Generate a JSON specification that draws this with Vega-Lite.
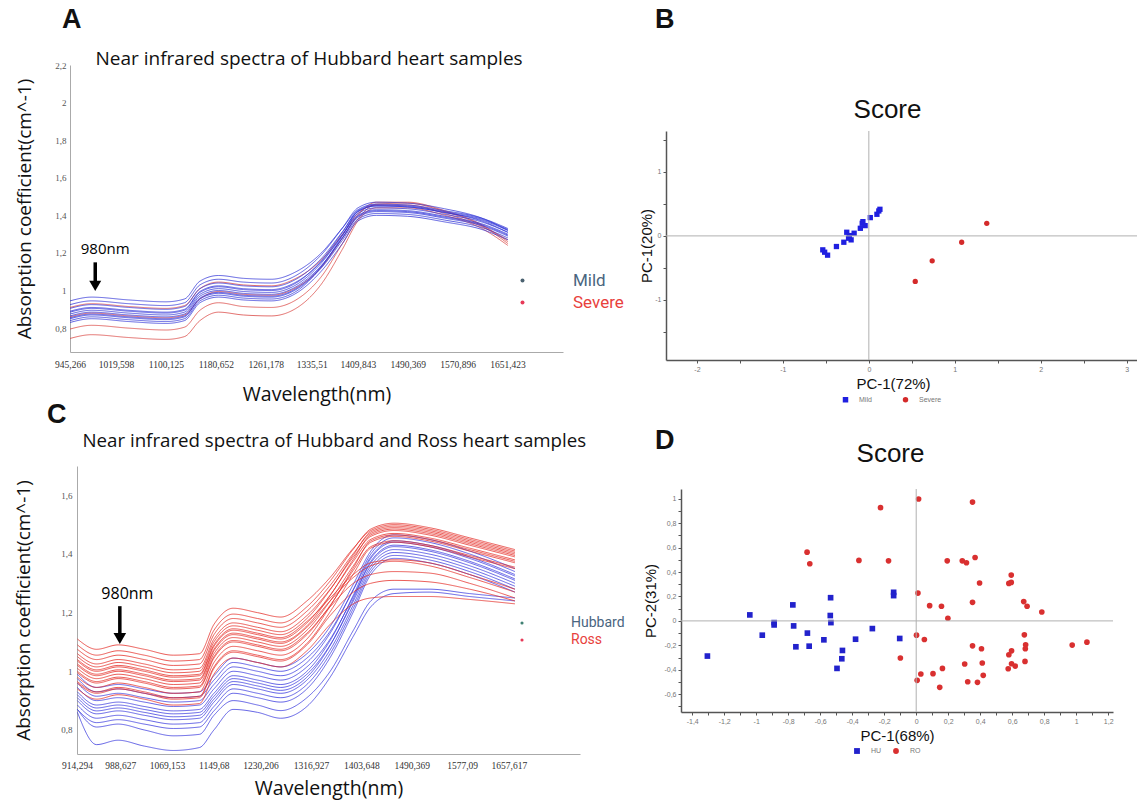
{
"$schema":"https://vega.github.io/schema/vega-lite/v6.json",
"background":"white",
"padding":{"left":14,"top":6,"right":0,"bottom":6},
"config":{
 "view":{"stroke":null},
 "locale":{"number":{"decimal":",","thousands":".","grouping":[3],"currency":["",""],"minus":"-"}},
 "title":{"font":"Liberation Sans","fontWeight":"bold","fontSize":27,"color":"#111","anchor":"start","frame":"group"},
 "axis":{"grid":false,"labelFlush":false,"labelOverlap":false,"titleFontWeight":"normal","titleColor":"#111","labelFont":"Liberation Sans"}
},
"align":"none",
"spacing":14,
"resolve":{"scale":{"color":"independent","shape":"independent","strokeDash":"independent"},"legend":{"color":"independent","shape":"independent","strokeDash":"independent"}},
"hconcat":[
 {"spacing":-5,"align":"none",
  "resolve":{"scale":{"color":"independent","shape":"independent","strokeDash":"independent"},"legend":{"color":"independent","shape":"independent","strokeDash":"independent"}},
  "vconcat":[
  {"width":1,"height":1,"data":{"values":[]},"mark":{"type":"point","opacity":0}},
  {"width":493,"height":287,
   "title":{"text":"A","dx":-8,"offset":15},
   "layer":[
    {"data":{"name":"specA"},
     "mark":{"type":"line","strokeWidth":0.9,"interpolate":"monotone","opacity":0.85},
     "encoding":{
      "x":{"field":"w","type":"quantitative","scale":{"domain":[945.266,1741],"nice":false,"zero":false},
       "axis":{"values":[945.266,1019.598,1100.125,1180.652,1261.178,1335.51,1409.843,1490.369,1570.896,1651.423],"format":".3~f","labelFont":"Liberation Serif","labelFontSize":9.5,"labelColor":"#333","labelPadding":7,"ticks":false,"domainColor":"#aaaaaa","title":"Wavelength(nm)","titleFont":"Open Sans","titleFontSize":19.5,"titlePadding":17}},
      "y":{"field":"v","type":"quantitative","scale":{"domain":[0.673,2.2],"nice":false,"zero":false},
       "axis":{"values":[0.8,1,1.2,1.4,1.6,1.8,2,2.2],"format":".1~f","labelFont":"Liberation Serif","labelFontSize":9,"labelColor":"#555","labelPadding":4,"ticks":false,"domainColor":"#aaaaaa","title":"Absorption coefficient(cm^-1)","titleFont":"Open Sans","titleFontSize":19,"titlePadding":20}},
      "color":{"field":"g","type":"nominal","scale":{"domain":["Mild","Severe"],"range":["#2b2fd6","#d9413d"]},
       "legend":{"orient":"none","legendX":444,"legendY":207,"values":["Mild"],"title":null,"symbolType":"circle","symbolSize":16,"symbolFillColor":"#2b4657","symbolStrokeWidth":0,"labelColor":"#4a6580","labelOffset":42,"labelFont":"Roboto","labelFontSize":17}},
      "strokeDash":{"field":"g","type":"nominal","scale":{"domain":["Severe","Mild"],"range":[[1,0],[1,0]]},
       "legend":{"orient":"none","legendX":444,"legendY":229,"values":["Severe"],"title":null,"symbolType":"circle","symbolSize":16,"symbolFillColor":"#e3163b","symbolStrokeWidth":0,"labelColor":"#e8413c","labelOffset":42,"labelFont":"Roboto","labelFontSize":17}},
      "detail":{"field":"s"}}},
    {"data":{"name":"arrA"},"mark":{"type":"rule","strokeWidth":3.5,"color":"#000"},
     "encoding":{"x":{"field":"x","type":"quantitative","axis":{"orient":"top","title":"Near infrared spectra of Hubbard heart samples","labels":false,"ticks":false,"domain":false,"titleFont":"Open Sans","titleFontSize":19,"titleX":25,"titleAlign":"left","titlePadding":-3}},
      "y":{"field":"top","type":"quantitative"},"y2":{"field":"bot"}}},
    {"data":{"name":"arrA"},"mark":{"type":"point","shape":"triangle-down","filled":true,"size":144,"color":"#000","opacity":1},
     "encoding":{"x":{"field":"x","type":"quantitative","axis":null},"y":{"field":"head","type":"quantitative"}}},
    {"data":{"name":"arrA"},"mark":{"type":"text","font":"Open Sans","fontSize":15,"color":"#000"},
     "encoding":{"x":{"field":"tx","type":"quantitative","axis":null},"y":{"field":"ty","type":"quantitative"},"text":{"field":"label"}}}
   ],
   "resolve":{"axis":{"x":"independent"}}},
  {"width":1,"height":7,"data":{"values":[]},"mark":{"type":"point","opacity":0}},
  {"spacing":-57,"align":"none",
   "resolve":{"scale":{"color":"independent","shape":"independent","strokeDash":"independent"},"legend":{"color":"independent","shape":"independent","strokeDash":"independent"}},
   "hconcat":[
   {"width":1,"height":1,"data":{"values":[]},"mark":{"type":"point","opacity":0}},
   {"width":503,"height":288,
    "title":{"text":"C","dx":-30,"offset":2},
    "layer":[
     {"data":{"name":"specC"},
      "mark":{"type":"line","strokeWidth":0.9,"interpolate":"monotone","opacity":0.85},
      "encoding":{
       "x":{"field":"w","type":"quantitative","scale":{"domain":[914.294,1780],"nice":false,"zero":false},
        "axis":{"values":[914.294,988.627,1069.153,1149.68,1230.206,1316.927,1403.648,1490.369,1577.09,1657.617],"format":".3~f","labelFont":"Liberation Serif","labelFontSize":9.5,"labelColor":"#333","labelPadding":6,"ticks":false,"domainColor":"#aaaaaa","title":"Wavelength(nm)","titleFont":"Open Sans","titleFontSize":19.5,"titlePadding":10}},
       "y":{"field":"v","type":"quantitative","scale":{"domain":[0.718,1.7],"nice":false,"zero":false},
        "axis":{"values":[0.8,0.9,1,1.1,1.2,1.3,1.4,1.5,1.6,1.7],"format":".1~f","labelFont":"Liberation Serif","labelFontSize":9,"labelColor":"#555","labelPadding":5,"ticks":false,"domainColor":"#aaaaaa","title":"Absorption coefficient(cm^-1)","titleFont":"Open Sans","titleFontSize":19,"titlePadding":27}},
       "color":{"field":"g","type":"nominal","scale":{"domain":["Hubbard","Ross"],"range":["#3333dd","#e3261f"]},
        "legend":{"orient":"none","legendX":438,"legendY":150,"values":["Hubbard"],"title":null,"symbolType":"circle","symbolSize":10,"symbolFillColor":"#1f6b5a","symbolStrokeWidth":0,"labelColor":"#4a6580","labelOffset":42,"labelFont":"Roboto","labelFontSize":14}},
       "strokeDash":{"field":"g","type":"nominal","scale":{"domain":["Ross","Hubbard"],"range":[[1,0],[1,0]]},
        "legend":{"orient":"none","legendX":438,"legendY":167,"values":["Ross"],"title":null,"symbolType":"circle","symbolSize":10,"symbolFillColor":"#e3163b","symbolStrokeWidth":0,"labelColor":"#e8413c","labelOffset":42,"labelFont":"Roboto","labelFontSize":14}},
       "detail":{"field":"s"}}},
     {"data":{"name":"arrC"},"mark":{"type":"rule","strokeWidth":3.5,"color":"#000"},
      "encoding":{"x":{"field":"x","type":"quantitative","axis":{"orient":"top","title":"Near infrared spectra of Hubbard and Ross heart samples","labels":false,"ticks":false,"domain":false,"titleFont":"Open Sans","titleFontSize":18.7,"titleX":5,"titleAlign":"left","titlePadding":16}},
       "y":{"field":"top","type":"quantitative"},"y2":{"field":"bot"}}},
     {"data":{"name":"arrC"},"mark":{"type":"point","shape":"triangle-down","filled":true,"size":160,"color":"#000","opacity":1},
      "encoding":{"x":{"field":"x","type":"quantitative","axis":null},"y":{"field":"head","type":"quantitative"}}},
     {"data":{"name":"arrC"},"mark":{"type":"text","font":"Open Sans","fontSize":16,"color":"#000"},
      "encoding":{"x":{"field":"tx","type":"quantitative","axis":null},"y":{"field":"ty","type":"quantitative"},"text":{"field":"label"}}}
    ],
    "resolve":{"axis":{"x":"independent"}}}
  ]}
 ]},
 {"spacing":-5,"align":"none",
  "resolve":{"scale":{"color":"independent","shape":"independent","strokeDash":"independent"},"legend":{"color":"independent","shape":"independent","strokeDash":"independent"}},
  "vconcat":[
  {"width":1,"height":1,"data":{"values":[]},"mark":{"type":"point","opacity":0}},
  {"width":471,"height":229,
   "title":{"text":"B","dx":-11,"offset":62},
   "layer":[
    {"data":{"name":"scoreB"},"mark":{"type":"point","filled":true,"size":28,"opacity":1},
     "encoding":{
      "x":{"field":"pc1","type":"quantitative","scale":{"domain":[-2.36,3.12],"nice":false,"zero":false},
       "axis":{"values":[-2,-1.5,-1,-0.5,0,0.5,1,1.5,2,2.5,3],"labelExpr":"datum.value % 1 === 0 ? datum.label : ''","format":".1~f","labelFontSize":7,"labelColor":"#777","labelPadding":2,"tickSize":3,"tickColor":"#555","domainColor":"#555","domainWidth":1.5,"title":"PC-1(72%)","titleFont":"Liberation Sans","titleFontSize":15,"titlePadding":4,"titleX":227,"titleAlign":"center"}},
      "y":{"field":"pc2","type":"quantitative","scale":{"domain":[-1.94,1.64],"nice":false,"zero":false},
       "axis":{"values":[-1.5,-1,-0.5,0,0.5,1,1.5],"labelExpr":"datum.value % 1 === 0 ? datum.label : ''","format":".1~f","labelFontSize":7,"labelColor":"#777","labelPadding":2,"tickSize":3,"tickColor":"#555","domainColor":"#555","domainWidth":1.5,"title":"PC-1(20%)","titleFont":"Liberation Sans","titleFontSize":15,"titlePadding":0}},
      "shape":{"field":"g","type":"nominal","scale":{"domain":["Mild","Severe"],"range":["square","circle"]},
       "legend":{"orient":"none","direction":"horizontal","legendX":176,"legendY":265,"title":null,"labelFontSize":7,"labelColor":"#777","symbolSize":30,"columnPadding":30,"labelOffset":10}},
      "color":{"field":"g","type":"nominal","scale":{"domain":["Mild","Severe"],"range":["#1f1fe0","#d42a2a"]},
       "legend":{"orient":"none","direction":"horizontal","legendX":176,"legendY":265,"title":null,"labelFontSize":7,"labelColor":"#777","symbolSize":30,"columnPadding":30,"labelOffset":10}}}},
    {"data":{"values":[{"z":0}]},"mark":{"type":"rule","color":"#b0b0b0","strokeWidth":1},
     "encoding":{"x":{"field":"z","type":"quantitative","axis":{"orient":"top","title":"Score","labels":false,"ticks":false,"domain":false,"titleFont":"Liberation Sans","titleFontSize":26,"titlePadding":9,"titleX":221,"titleAlign":"center"}}}},
    {"data":{"values":[{"z":0}]},"mark":{"type":"rule","color":"#b0b0b0","strokeWidth":1},
     "encoding":{"y":{"field":"z","type":"quantitative","axis":null}}}
   ],
   "resolve":{"axis":{"x":"independent","y":"independent"}}},
  {"width":1,"height":34,"data":{"values":[]},"mark":{"type":"point","opacity":0}},
  {"spacing":-24,"align":"none",
   "resolve":{"scale":{"color":"independent","shape":"independent","strokeDash":"independent"},"legend":{"color":"independent","shape":"independent","strokeDash":"independent"}},
   "hconcat":[
   {"width":1,"height":1,"data":{"values":[]},"mark":{"type":"point","opacity":0}},
   {"width":432,"height":223,
    "title":{"text":"D","dx":-26,"offset":-15},
    "layer":[
     {"data":{"name":"scoreD"},"mark":{"type":"point","filled":true,"size":32,"opacity":1},
      "encoding":{
       "x":{"field":"pc1","type":"quantitative","scale":{"domain":[-1.47,1.23],"nice":false,"zero":false},
        "axis":{"values":[-1.4,-1.3,-1.2,-1.1,-1,-0.9,-0.8,-0.7,-0.6,-0.5,-0.4,-0.3,-0.2,-0.1,0,0.1,0.2,0.3,0.4,0.5,0.6,0.7,0.8,0.9,1,1.1,1.2],"labelExpr":"abs(round(datum.value*10)) % 2 === 0 ? datum.label : ''","format":".1~f","labelFontSize":7,"labelColor":"#777","labelPadding":2,"tickSize":3,"tickColor":"#555","domainColor":"#555","domainWidth":1.5,"title":"PC-1(68%)","titleFont":"Liberation Sans","titleFontSize":15,"titlePadding":4}},
       "y":{"field":"pc2","type":"quantitative","scale":{"domain":[-0.746,1.08],"nice":false,"zero":false},
        "axis":{"values":[-0.7,-0.6,-0.5,-0.4,-0.3,-0.2,-0.1,0,0.1,0.2,0.3,0.4,0.5,0.6,0.7,0.8,0.9,1],"labelExpr":"abs(round(datum.value*10)) % 2 === 0 ? datum.label : ''","format":".1~f","labelFontSize":7,"labelColor":"#777","labelPadding":2,"tickSize":3,"tickColor":"#555","domainColor":"#555","domainWidth":1.5,"title":"PC-2(31%)","titleFont":"Liberation Sans","titleFontSize":15,"titlePadding":5}},
       "shape":{"field":"g","type":"nominal","scale":{"domain":["HU","RO"],"range":["square","circle"]},
        "legend":{"orient":"none","direction":"horizontal","legendX":172,"legendY":258,"title":null,"labelFontSize":7,"labelColor":"#777","symbolSize":34,"columnPadding":10,"labelOffset":10}},
       "color":{"field":"g","type":"nominal","scale":{"domain":["HU","RO"],"range":["#2222cc","#d93030"]},
        "legend":{"orient":"none","direction":"horizontal","legendX":172,"legendY":258,"title":null,"labelFontSize":7,"labelColor":"#777","symbolSize":34,"columnPadding":10,"labelOffset":10}}}},
     {"data":{"values":[{"z":0}]},"mark":{"type":"rule","color":"#b0b0b0","strokeWidth":1},
      "encoding":{"x":{"field":"z","type":"quantitative","axis":{"orient":"top","title":"Score","labels":false,"ticks":false,"domain":false,"titleFont":"Liberation Sans","titleFontSize":26,"titlePadding":23,"titleX":209,"titleAlign":"center"}}}},
     {"data":{"values":[{"z":0}]},"mark":{"type":"rule","color":"#b0b0b0","strokeWidth":1},
      "encoding":{"y":{"field":"z","type":"quantitative","axis":null}}}
    ],
    "resolve":{"axis":{"x":"independent","y":"independent"}}}
  ]}
 ]}
],
"datasets":{
 "arrA":[{"x":986,"top":1.15,"bot":1.04,"head":1.025,"tx":1002,"ty":1.222,"label":"980nm"}],
 "arrC":[{"x":988,"top":1.222,"bot":1.12,"head":1.112,"tx":1001,"ty":1.263,"label":"980nm"}],
 "scoreB":[
  {"g":"Mild","pc1":-0.536,"pc2":-0.218},{"g":"Mild","pc1":-0.514,"pc2":-0.255},{"g":"Mild","pc1":-0.48,"pc2":-0.301},{"g":"Mild","pc1":-0.377,"pc2":-0.166},{"g":"Mild","pc1":-0.291,"pc2":-0.099},{"g":"Mild","pc1":-0.257,"pc2":0.057},{"g":"Mild","pc1":-0.227,"pc2":0.005},{"g":"Mild","pc1":-0.206,"pc2":-0.062},{"g":"Mild","pc1":-0.171,"pc2":0.042},{"g":"Mild","pc1":-0.236,"pc2":-0.036},{"g":"Mild","pc1":-0.099,"pc2":0.119},{"g":"Mild","pc1":-0.077,"pc2":0.197},{"g":"Mild","pc1":-0.069,"pc2":0.223},{"g":"Mild","pc1":-0.043,"pc2":0.161},{"g":"Mild","pc1":0.017,"pc2":0.286},{"g":"Mild","pc1":0.094,"pc2":0.338},{"g":"Mild","pc1":0.116,"pc2":0.39},{"g":"Mild","pc1":0.129,"pc2":0.416},
  {"g":"Severe","pc1":0.54,"pc2":-0.712},{"g":"Severe","pc1":0.737,"pc2":-0.39},{"g":"Severe","pc1":1.08,"pc2":-0.099},{"g":"Severe","pc1":1.372,"pc2":0.197}],
 "scoreD":[
  {"g":"HU","pc1":-1.305,"pc2":-0.288},{"g":"HU","pc1":-1.04,"pc2":0.049},{"g":"HU","pc1":-0.962,"pc2":-0.117},{"g":"HU","pc1":-0.888,"pc2":-0.014},{"g":"HU","pc1":-0.888,"pc2":-0.033},{"g":"HU","pc1":-0.771,"pc2":0.131},{"g":"HU","pc1":-0.766,"pc2":-0.041},{"g":"HU","pc1":-0.752,"pc2":-0.212},{"g":"HU","pc1":-0.68,"pc2":-0.1},{"g":"HU","pc1":-0.669,"pc2":-0.207},{"g":"HU","pc1":-0.577,"pc2":-0.155},{"g":"HU","pc1":-0.535,"pc2":0.19},{"g":"HU","pc1":-0.537,"pc2":0.044},{"g":"HU","pc1":-0.533,"pc2":-0.014},{"g":"HU","pc1":-0.495,"pc2":-0.389},{"g":"HU","pc1":-0.461,"pc2":-0.242},{"g":"HU","pc1":-0.465,"pc2":-0.31},{"g":"HU","pc1":-0.379,"pc2":-0.15},{"g":"HU","pc1":-0.274,"pc2":-0.063},{"g":"HU","pc1":-0.141,"pc2":0.234},{"g":"HU","pc1":-0.141,"pc2":0.207},{"g":"HU","pc1":-0.103,"pc2":-0.144},
  {"g":"RO","pc1":-0.682,"pc2":0.563},{"g":"RO","pc1":-0.665,"pc2":0.468},{"g":"RO","pc1":-0.358,"pc2":0.495},{"g":"RO","pc1":-0.223,"pc2":0.927},{"g":"RO","pc1":-0.173,"pc2":0.492},{"g":"RO","pc1":-0.099,"pc2":-0.304},{"g":"RO","pc1":0.015,"pc2":0.998},{"g":"RO","pc1":0.011,"pc2":0.228},{"g":"RO","pc1":0.002,"pc2":-0.117},{"g":"RO","pc1":0.006,"pc2":-0.487},{"g":"RO","pc1":0.029,"pc2":-0.435},{"g":"RO","pc1":0.051,"pc2":-0.152},{"g":"RO","pc1":0.084,"pc2":0.125},{"g":"RO","pc1":0.105,"pc2":-0.432},{"g":"RO","pc1":0.158,"pc2":0.12},{"g":"RO","pc1":0.147,"pc2":-0.544},{"g":"RO","pc1":0.164,"pc2":-0.389},{"g":"RO","pc1":0.194,"pc2":0.492},{"g":"RO","pc1":0.198,"pc2":0.022},{"g":"RO","pc1":0.288,"pc2":0.492},{"g":"RO","pc1":0.314,"pc2":0.476},{"g":"RO","pc1":0.303,"pc2":-0.353},{"g":"RO","pc1":0.322,"pc2":-0.498},{"g":"RO","pc1":0.352,"pc2":0.973},{"g":"RO","pc1":0.352,"pc2":0.152},{"g":"RO","pc1":0.352,"pc2":-0.204},{"g":"RO","pc1":0.368,"pc2":0.519},{"g":"RO","pc1":0.383,"pc2":-0.503},{"g":"RO","pc1":0.396,"pc2":0.31},{"g":"RO","pc1":0.408,"pc2":-0.228},{"g":"RO","pc1":0.413,"pc2":-0.345},{"g":"RO","pc1":0.419,"pc2":-0.446},{"g":"RO","pc1":0.575,"pc2":-0.392},{"g":"RO","pc1":0.579,"pc2":-0.277},{"g":"RO","pc1":0.579,"pc2":0.307},{"g":"RO","pc1":0.594,"pc2":0.315},{"g":"RO","pc1":0.594,"pc2":0.375},{"g":"RO","pc1":0.596,"pc2":-0.245},{"g":"RO","pc1":0.596,"pc2":-0.351},{"g":"RO","pc1":0.619,"pc2":-0.37},{"g":"RO","pc1":0.672,"pc2":0.158},{"g":"RO","pc1":0.676,"pc2":-0.114},{"g":"RO","pc1":0.693,"pc2":0.12},{"g":"RO","pc1":0.684,"pc2":-0.196},{"g":"RO","pc1":0.682,"pc2":-0.228},{"g":"RO","pc1":0.68,"pc2":-0.332},{"g":"RO","pc1":0.785,"pc2":0.073},{"g":"RO","pc1":0.975,"pc2":-0.198},{"g":"RO","pc1":1.067,"pc2":-0.174}],
 "specA":[
  {"s":"s1","g":"Severe","w":945.3,"v":0.745},{"s":"s1","g":"Severe","w":980,"v":0.765},{"s":"s1","g":"Severe","w":1040,"v":0.75},{"s":"s1","g":"Severe","w":1100,"v":0.74},{"s":"s1","g":"Severe","w":1130,"v":0.755},{"s":"s1","g":"Severe","w":1155,"v":0.84},{"s":"s1","g":"Severe","w":1185,"v":0.885},{"s":"s1","g":"Severe","w":1225,"v":0.87},{"s":"s1","g":"Severe","w":1270,"v":0.865},{"s":"s1","g":"Severe","w":1310,"v":0.905},{"s":"s1","g":"Severe","w":1350,"v":1.03},{"s":"s1","g":"Severe","w":1385,"v":1.22},{"s":"s1","g":"Severe","w":1410,"v":1.37},{"s":"s1","g":"Severe","w":1440,"v":1.44},{"s":"s1","g":"Severe","w":1490,"v":1.44},{"s":"s1","g":"Severe","w":1550,"v":1.4},{"s":"s1","g":"Severe","w":1610,"v":1.33},{"s":"s1","g":"Severe","w":1652,"v":1.24},
  {"s":"s2","g":"Severe","w":945.3,"v":0.795},{"s":"s2","g":"Severe","w":980,"v":0.815},{"s":"s2","g":"Severe","w":1040,"v":0.8},{"s":"s2","g":"Severe","w":1100,"v":0.79},{"s":"s2","g":"Severe","w":1130,"v":0.805},{"s":"s2","g":"Severe","w":1155,"v":0.895},{"s":"s2","g":"Severe","w":1185,"v":0.935},{"s":"s2","g":"Severe","w":1225,"v":0.915},{"s":"s2","g":"Severe","w":1270,"v":0.91},{"s":"s2","g":"Severe","w":1310,"v":0.95},{"s":"s2","g":"Severe","w":1350,"v":1.07},{"s":"s2","g":"Severe","w":1385,"v":1.25},{"s":"s2","g":"Severe","w":1410,"v":1.38},{"s":"s2","g":"Severe","w":1440,"v":1.46},{"s":"s2","g":"Severe","w":1490,"v":1.465},{"s":"s2","g":"Severe","w":1550,"v":1.42},{"s":"s2","g":"Severe","w":1610,"v":1.345},{"s":"s2","g":"Severe","w":1652,"v":1.25},
  {"s":"s3","g":"Severe","w":945.3,"v":0.86},{"s":"s3","g":"Severe","w":980,"v":0.88},{"s":"s3","g":"Severe","w":1040,"v":0.865},{"s":"s3","g":"Severe","w":1100,"v":0.855},{"s":"s3","g":"Severe","w":1130,"v":0.87},{"s":"s3","g":"Severe","w":1155,"v":0.955},{"s":"s3","g":"Severe","w":1185,"v":0.995},{"s":"s3","g":"Severe","w":1225,"v":0.98},{"s":"s3","g":"Severe","w":1270,"v":0.975},{"s":"s3","g":"Severe","w":1310,"v":1.015},{"s":"s3","g":"Severe","w":1350,"v":1.12},{"s":"s3","g":"Severe","w":1385,"v":1.28},{"s":"s3","g":"Severe","w":1410,"v":1.4},{"s":"s3","g":"Severe","w":1440,"v":1.47},{"s":"s3","g":"Severe","w":1490,"v":1.47},{"s":"s3","g":"Severe","w":1550,"v":1.425},{"s":"s3","g":"Severe","w":1610,"v":1.35},{"s":"s3","g":"Severe","w":1652,"v":1.26},
  {"s":"s4","g":"Severe","w":945.3,"v":0.91},{"s":"s4","g":"Severe","w":980,"v":0.93},{"s":"s4","g":"Severe","w":1040,"v":0.915},{"s":"s4","g":"Severe","w":1100,"v":0.905},{"s":"s4","g":"Severe","w":1130,"v":0.92},{"s":"s4","g":"Severe","w":1155,"v":1.01},{"s":"s4","g":"Severe","w":1185,"v":1.045},{"s":"s4","g":"Severe","w":1225,"v":1.03},{"s":"s4","g":"Severe","w":1270,"v":1.025},{"s":"s4","g":"Severe","w":1310,"v":1.065},{"s":"s4","g":"Severe","w":1350,"v":1.16},{"s":"s4","g":"Severe","w":1385,"v":1.3},{"s":"s4","g":"Severe","w":1410,"v":1.41},{"s":"s4","g":"Severe","w":1440,"v":1.455},{"s":"s4","g":"Severe","w":1490,"v":1.455},{"s":"s4","g":"Severe","w":1550,"v":1.41},{"s":"s4","g":"Severe","w":1610,"v":1.34},{"s":"s4","g":"Severe","w":1652,"v":1.27},
  {"s":"m1","g":"Mild","w":945.3,"v":0.945},{"s":"m1","g":"Mild","w":980,"v":0.965},{"s":"m1","g":"Mild","w":1040,"v":0.95},{"s":"m1","g":"Mild","w":1100,"v":0.94},{"s":"m1","g":"Mild","w":1130,"v":0.955},{"s":"m1","g":"Mild","w":1155,"v":1.05},{"s":"m1","g":"Mild","w":1185,"v":1.08},{"s":"m1","g":"Mild","w":1225,"v":1.065},{"s":"m1","g":"Mild","w":1270,"v":1.06},{"s":"m1","g":"Mild","w":1310,"v":1.1},{"s":"m1","g":"Mild","w":1350,"v":1.197},{"s":"m1","g":"Mild","w":1385,"v":1.333},{"s":"m1","g":"Mild","w":1410,"v":1.43},{"s":"m1","g":"Mild","w":1440,"v":1.46},{"s":"m1","g":"Mild","w":1490,"v":1.455},{"s":"m1","g":"Mild","w":1550,"v":1.425},{"s":"m1","g":"Mild","w":1610,"v":1.385},{"s":"m1","g":"Mild","w":1652,"v":1.33},
  {"s":"m2","g":"Mild","w":945.3,"v":0.925},{"s":"m2","g":"Mild","w":980,"v":0.945},{"s":"m2","g":"Mild","w":1040,"v":0.93},{"s":"m2","g":"Mild","w":1100,"v":0.92},{"s":"m2","g":"Mild","w":1130,"v":0.935},{"s":"m2","g":"Mild","w":1155,"v":1.03},{"s":"m2","g":"Mild","w":1185,"v":1.06},{"s":"m2","g":"Mild","w":1225,"v":1.045},{"s":"m2","g":"Mild","w":1270,"v":1.04},{"s":"m2","g":"Mild","w":1310,"v":1.08},{"s":"m2","g":"Mild","w":1350,"v":1.187},{"s":"m2","g":"Mild","w":1385,"v":1.333},{"s":"m2","g":"Mild","w":1410,"v":1.44},{"s":"m2","g":"Mild","w":1440,"v":1.47},{"s":"m2","g":"Mild","w":1490,"v":1.465},{"s":"m2","g":"Mild","w":1550,"v":1.435},{"s":"m2","g":"Mild","w":1610,"v":1.385},{"s":"m2","g":"Mild","w":1652,"v":1.32},
  {"s":"m3","g":"Mild","w":945.3,"v":0.905},{"s":"m3","g":"Mild","w":980,"v":0.925},{"s":"m3","g":"Mild","w":1040,"v":0.91},{"s":"m3","g":"Mild","w":1100,"v":0.9},{"s":"m3","g":"Mild","w":1130,"v":0.915},{"s":"m3","g":"Mild","w":1155,"v":1.01},{"s":"m3","g":"Mild","w":1185,"v":1.04},{"s":"m3","g":"Mild","w":1225,"v":1.025},{"s":"m3","g":"Mild","w":1270,"v":1.02},{"s":"m3","g":"Mild","w":1310,"v":1.06},{"s":"m3","g":"Mild","w":1350,"v":1.167},{"s":"m3","g":"Mild","w":1385,"v":1.313},{"s":"m3","g":"Mild","w":1410,"v":1.42},{"s":"m3","g":"Mild","w":1440,"v":1.45},{"s":"m3","g":"Mild","w":1490,"v":1.445},{"s":"m3","g":"Mild","w":1550,"v":1.415},{"s":"m3","g":"Mild","w":1610,"v":1.375},{"s":"m3","g":"Mild","w":1652,"v":1.32},
  {"s":"m4","g":"Mild","w":945.3,"v":0.89},{"s":"m4","g":"Mild","w":980,"v":0.91},{"s":"m4","g":"Mild","w":1040,"v":0.895},{"s":"m4","g":"Mild","w":1100,"v":0.885},{"s":"m4","g":"Mild","w":1130,"v":0.9},{"s":"m4","g":"Mild","w":1155,"v":0.995},{"s":"m4","g":"Mild","w":1185,"v":1.025},{"s":"m4","g":"Mild","w":1225,"v":1.01},{"s":"m4","g":"Mild","w":1270,"v":1.005},{"s":"m4","g":"Mild","w":1310,"v":1.045},{"s":"m4","g":"Mild","w":1350,"v":1.15},{"s":"m4","g":"Mild","w":1385,"v":1.295},{"s":"m4","g":"Mild","w":1410,"v":1.4},{"s":"m4","g":"Mild","w":1440,"v":1.43},{"s":"m4","g":"Mild","w":1490,"v":1.425},{"s":"m4","g":"Mild","w":1550,"v":1.395},{"s":"m4","g":"Mild","w":1610,"v":1.355},{"s":"m4","g":"Mild","w":1652,"v":1.3},
  {"s":"m5","g":"Mild","w":945.3,"v":0.875},{"s":"m5","g":"Mild","w":980,"v":0.895},{"s":"m5","g":"Mild","w":1040,"v":0.88},{"s":"m5","g":"Mild","w":1100,"v":0.87},{"s":"m5","g":"Mild","w":1130,"v":0.885},{"s":"m5","g":"Mild","w":1155,"v":0.98},{"s":"m5","g":"Mild","w":1185,"v":1.01},{"s":"m5","g":"Mild","w":1225,"v":0.995},{"s":"m5","g":"Mild","w":1270,"v":0.99},{"s":"m5","g":"Mild","w":1310,"v":1.03},{"s":"m5","g":"Mild","w":1350,"v":1.143},{"s":"m5","g":"Mild","w":1385,"v":1.297},{"s":"m5","g":"Mild","w":1410,"v":1.41},{"s":"m5","g":"Mild","w":1440,"v":1.44},{"s":"m5","g":"Mild","w":1490,"v":1.435},{"s":"m5","g":"Mild","w":1550,"v":1.405},{"s":"m5","g":"Mild","w":1610,"v":1.365},{"s":"m5","g":"Mild","w":1652,"v":1.31},
  {"s":"m6","g":"Mild","w":945.3,"v":0.865},{"s":"m6","g":"Mild","w":980,"v":0.885},{"s":"m6","g":"Mild","w":1040,"v":0.87},{"s":"m6","g":"Mild","w":1100,"v":0.86},{"s":"m6","g":"Mild","w":1130,"v":0.875},{"s":"m6","g":"Mild","w":1155,"v":0.97},{"s":"m6","g":"Mild","w":1185,"v":1},{"s":"m6","g":"Mild","w":1225,"v":0.985},{"s":"m6","g":"Mild","w":1270,"v":0.98},{"s":"m6","g":"Mild","w":1310,"v":1.02},{"s":"m6","g":"Mild","w":1350,"v":1.13},{"s":"m6","g":"Mild","w":1385,"v":1.28},{"s":"m6","g":"Mild","w":1410,"v":1.39},{"s":"m6","g":"Mild","w":1440,"v":1.42},{"s":"m6","g":"Mild","w":1490,"v":1.415},{"s":"m6","g":"Mild","w":1550,"v":1.385},{"s":"m6","g":"Mild","w":1610,"v":1.345},{"s":"m6","g":"Mild","w":1652,"v":1.29},
  {"s":"m7","g":"Mild","w":945.3,"v":0.85},{"s":"m7","g":"Mild","w":980,"v":0.87},{"s":"m7","g":"Mild","w":1040,"v":0.855},{"s":"m7","g":"Mild","w":1100,"v":0.845},{"s":"m7","g":"Mild","w":1130,"v":0.86},{"s":"m7","g":"Mild","w":1155,"v":0.955},{"s":"m7","g":"Mild","w":1185,"v":0.985},{"s":"m7","g":"Mild","w":1225,"v":0.97},{"s":"m7","g":"Mild","w":1270,"v":0.965},{"s":"m7","g":"Mild","w":1310,"v":1.005},{"s":"m7","g":"Mild","w":1350,"v":1.117},{"s":"m7","g":"Mild","w":1385,"v":1.268},{"s":"m7","g":"Mild","w":1410,"v":1.38},{"s":"m7","g":"Mild","w":1440,"v":1.41},{"s":"m7","g":"Mild","w":1490,"v":1.405},{"s":"m7","g":"Mild","w":1550,"v":1.375},{"s":"m7","g":"Mild","w":1610,"v":1.335},{"s":"m7","g":"Mild","w":1652,"v":1.28},
  {"s":"m8","g":"Mild","w":945.3,"v":0.84},{"s":"m8","g":"Mild","w":980,"v":0.86},{"s":"m8","g":"Mild","w":1040,"v":0.845},{"s":"m8","g":"Mild","w":1100,"v":0.835},{"s":"m8","g":"Mild","w":1130,"v":0.85},{"s":"m8","g":"Mild","w":1155,"v":0.945},{"s":"m8","g":"Mild","w":1185,"v":0.975},{"s":"m8","g":"Mild","w":1225,"v":0.96},{"s":"m8","g":"Mild","w":1270,"v":0.955},{"s":"m8","g":"Mild","w":1310,"v":0.995},{"s":"m8","g":"Mild","w":1350,"v":1.123},{"s":"m8","g":"Mild","w":1385,"v":1.292},{"s":"m8","g":"Mild","w":1410,"v":1.42},{"s":"m8","g":"Mild","w":1440,"v":1.45},{"s":"m8","g":"Mild","w":1490,"v":1.445},{"s":"m8","g":"Mild","w":1550,"v":1.415},{"s":"m8","g":"Mild","w":1610,"v":1.37},{"s":"m8","g":"Mild","w":1652,"v":1.31},
  {"s":"m9","g":"Mild","w":945.3,"v":0.83},{"s":"m9","g":"Mild","w":980,"v":0.85},{"s":"m9","g":"Mild","w":1040,"v":0.835},{"s":"m9","g":"Mild","w":1100,"v":0.825},{"s":"m9","g":"Mild","w":1130,"v":0.84},{"s":"m9","g":"Mild","w":1155,"v":0.935},{"s":"m9","g":"Mild","w":1185,"v":0.965},{"s":"m9","g":"Mild","w":1225,"v":0.95},{"s":"m9","g":"Mild","w":1270,"v":0.945},{"s":"m9","g":"Mild","w":1310,"v":0.985},{"s":"m9","g":"Mild","w":1350,"v":1.1},{"s":"m9","g":"Mild","w":1385,"v":1.25},{"s":"m9","g":"Mild","w":1410,"v":1.37},{"s":"m9","g":"Mild","w":1440,"v":1.4},{"s":"m9","g":"Mild","w":1490,"v":1.395},{"s":"m9","g":"Mild","w":1550,"v":1.365},{"s":"m9","g":"Mild","w":1610,"v":1.325},{"s":"m9","g":"Mild","w":1652,"v":1.27},
  {"s":"m10","g":"Mild","w":945.3,"v":0.885},{"s":"m10","g":"Mild","w":980,"v":0.905},{"s":"m10","g":"Mild","w":1040,"v":0.89},{"s":"m10","g":"Mild","w":1100,"v":0.88},{"s":"m10","g":"Mild","w":1130,"v":0.895},{"s":"m10","g":"Mild","w":1155,"v":0.99},{"s":"m10","g":"Mild","w":1185,"v":1.02},{"s":"m10","g":"Mild","w":1225,"v":1.005},{"s":"m10","g":"Mild","w":1270,"v":1},{"s":"m10","g":"Mild","w":1310,"v":1.04},{"s":"m10","g":"Mild","w":1350,"v":1.155},{"s":"m10","g":"Mild","w":1385,"v":1.31},{"s":"m10","g":"Mild","w":1410,"v":1.425},{"s":"m10","g":"Mild","w":1440,"v":1.455},{"s":"m10","g":"Mild","w":1490,"v":1.45},{"s":"m10","g":"Mild","w":1550,"v":1.42},{"s":"m10","g":"Mild","w":1610,"v":1.38},{"s":"m10","g":"Mild","w":1652,"v":1.325},
  {"s":"m11","g":"Mild","w":945.3,"v":0.855},{"s":"m11","g":"Mild","w":980,"v":0.875},{"s":"m11","g":"Mild","w":1040,"v":0.86},{"s":"m11","g":"Mild","w":1100,"v":0.85},{"s":"m11","g":"Mild","w":1130,"v":0.865},{"s":"m11","g":"Mild","w":1155,"v":0.96},{"s":"m11","g":"Mild","w":1185,"v":0.99},{"s":"m11","g":"Mild","w":1225,"v":0.975},{"s":"m11","g":"Mild","w":1270,"v":0.97},{"s":"m11","g":"Mild","w":1310,"v":1.01},{"s":"m11","g":"Mild","w":1350,"v":1.125},{"s":"m11","g":"Mild","w":1385,"v":1.28},{"s":"m11","g":"Mild","w":1410,"v":1.395},{"s":"m11","g":"Mild","w":1440,"v":1.425},{"s":"m11","g":"Mild","w":1490,"v":1.42},{"s":"m11","g":"Mild","w":1550,"v":1.39},{"s":"m11","g":"Mild","w":1610,"v":1.35},{"s":"m11","g":"Mild","w":1652,"v":1.295}
 ],
 "specC":[
  {"s":"h1","g":"Hubbard","w":915,"v":0.99},{"s":"h1","g":"Hubbard","w":948,"v":0.945},{"s":"h1","g":"Hubbard","w":985,"v":0.955},{"s":"h1","g":"Hubbard","w":1030,"v":0.94},{"s":"h1","g":"Hubbard","w":1080,"v":0.925},{"s":"h1","g":"Hubbard","w":1125,"v":0.93},{"s":"h1","g":"Hubbard","w":1150,"v":0.985},{"s":"h1","g":"Hubbard","w":1183,"v":1.045},{"s":"h1","g":"Hubbard","w":1225,"v":1.03},{"s":"h1","g":"Hubbard","w":1265,"v":1.015},{"s":"h1","g":"Hubbard","w":1310,"v":1.06},{"s":"h1","g":"Hubbard","w":1350,"v":1.153},{"s":"h1","g":"Hubbard","w":1390,"v":1.297},{"s":"h1","g":"Hubbard","w":1420,"v":1.41},{"s":"h1","g":"Hubbard","w":1460,"v":1.465},{"s":"h1","g":"Hubbard","w":1520,"v":1.45},{"s":"h1","g":"Hubbard","w":1590,"v":1.41},{"s":"h1","g":"Hubbard","w":1668,"v":1.35},
  {"s":"h2","g":"Hubbard","w":915,"v":0.975},{"s":"h2","g":"Hubbard","w":948,"v":0.93},{"s":"h2","g":"Hubbard","w":985,"v":0.94},{"s":"h2","g":"Hubbard","w":1030,"v":0.925},{"s":"h2","g":"Hubbard","w":1080,"v":0.91},{"s":"h2","g":"Hubbard","w":1125,"v":0.915},{"s":"h2","g":"Hubbard","w":1150,"v":0.97},{"s":"h2","g":"Hubbard","w":1183,"v":1.03},{"s":"h2","g":"Hubbard","w":1225,"v":1.015},{"s":"h2","g":"Hubbard","w":1265,"v":1},{"s":"h2","g":"Hubbard","w":1310,"v":1.045},{"s":"h2","g":"Hubbard","w":1350,"v":1.137},{"s":"h2","g":"Hubbard","w":1390,"v":1.278},{"s":"h2","g":"Hubbard","w":1420,"v":1.39},{"s":"h2","g":"Hubbard","w":1460,"v":1.445},{"s":"h2","g":"Hubbard","w":1520,"v":1.43},{"s":"h2","g":"Hubbard","w":1590,"v":1.39},{"s":"h2","g":"Hubbard","w":1668,"v":1.33},
  {"s":"h3","g":"Hubbard","w":915,"v":0.96},{"s":"h3","g":"Hubbard","w":948,"v":0.915},{"s":"h3","g":"Hubbard","w":985,"v":0.925},{"s":"h3","g":"Hubbard","w":1030,"v":0.91},{"s":"h3","g":"Hubbard","w":1080,"v":0.895},{"s":"h3","g":"Hubbard","w":1125,"v":0.9},{"s":"h3","g":"Hubbard","w":1150,"v":0.955},{"s":"h3","g":"Hubbard","w":1183,"v":1.015},{"s":"h3","g":"Hubbard","w":1225,"v":1},{"s":"h3","g":"Hubbard","w":1265,"v":0.985},{"s":"h3","g":"Hubbard","w":1310,"v":1.03},{"s":"h3","g":"Hubbard","w":1350,"v":1.13},{"s":"h3","g":"Hubbard","w":1390,"v":1.28},{"s":"h3","g":"Hubbard","w":1420,"v":1.4},{"s":"h3","g":"Hubbard","w":1460,"v":1.455},{"s":"h3","g":"Hubbard","w":1520,"v":1.44},{"s":"h3","g":"Hubbard","w":1590,"v":1.4},{"s":"h3","g":"Hubbard","w":1668,"v":1.34},
  {"s":"h4","g":"Hubbard","w":915,"v":0.945},{"s":"h4","g":"Hubbard","w":948,"v":0.9},{"s":"h4","g":"Hubbard","w":985,"v":0.91},{"s":"h4","g":"Hubbard","w":1030,"v":0.895},{"s":"h4","g":"Hubbard","w":1080,"v":0.88},{"s":"h4","g":"Hubbard","w":1125,"v":0.885},{"s":"h4","g":"Hubbard","w":1150,"v":0.94},{"s":"h4","g":"Hubbard","w":1183,"v":1},{"s":"h4","g":"Hubbard","w":1225,"v":0.985},{"s":"h4","g":"Hubbard","w":1265,"v":0.97},{"s":"h4","g":"Hubbard","w":1310,"v":1.015},{"s":"h4","g":"Hubbard","w":1350,"v":1.11},{"s":"h4","g":"Hubbard","w":1390,"v":1.255},{"s":"h4","g":"Hubbard","w":1420,"v":1.37},{"s":"h4","g":"Hubbard","w":1460,"v":1.425},{"s":"h4","g":"Hubbard","w":1520,"v":1.41},{"s":"h4","g":"Hubbard","w":1590,"v":1.37},{"s":"h4","g":"Hubbard","w":1668,"v":1.31},
  {"s":"h5","g":"Hubbard","w":915,"v":0.93},{"s":"h5","g":"Hubbard","w":948,"v":0.885},{"s":"h5","g":"Hubbard","w":985,"v":0.895},{"s":"h5","g":"Hubbard","w":1030,"v":0.88},{"s":"h5","g":"Hubbard","w":1080,"v":0.865},{"s":"h5","g":"Hubbard","w":1125,"v":0.87},{"s":"h5","g":"Hubbard","w":1150,"v":0.925},{"s":"h5","g":"Hubbard","w":1183,"v":0.985},{"s":"h5","g":"Hubbard","w":1225,"v":0.97},{"s":"h5","g":"Hubbard","w":1265,"v":0.955},{"s":"h5","g":"Hubbard","w":1310,"v":1},{"s":"h5","g":"Hubbard","w":1350,"v":1.105},{"s":"h5","g":"Hubbard","w":1390,"v":1.26},{"s":"h5","g":"Hubbard","w":1420,"v":1.385},{"s":"h5","g":"Hubbard","w":1460,"v":1.44},{"s":"h5","g":"Hubbard","w":1520,"v":1.425},{"s":"h5","g":"Hubbard","w":1590,"v":1.385},{"s":"h5","g":"Hubbard","w":1668,"v":1.325},
  {"s":"h6","g":"Hubbard","w":915,"v":0.92},{"s":"h6","g":"Hubbard","w":948,"v":0.875},{"s":"h6","g":"Hubbard","w":985,"v":0.885},{"s":"h6","g":"Hubbard","w":1030,"v":0.87},{"s":"h6","g":"Hubbard","w":1080,"v":0.855},{"s":"h6","g":"Hubbard","w":1125,"v":0.86},{"s":"h6","g":"Hubbard","w":1150,"v":0.915},{"s":"h6","g":"Hubbard","w":1183,"v":0.975},{"s":"h6","g":"Hubbard","w":1225,"v":0.96},{"s":"h6","g":"Hubbard","w":1265,"v":0.945},{"s":"h6","g":"Hubbard","w":1310,"v":0.99},{"s":"h6","g":"Hubbard","w":1350,"v":1.09},{"s":"h6","g":"Hubbard","w":1390,"v":1.24},{"s":"h6","g":"Hubbard","w":1420,"v":1.36},{"s":"h6","g":"Hubbard","w":1460,"v":1.415},{"s":"h6","g":"Hubbard","w":1520,"v":1.4},{"s":"h6","g":"Hubbard","w":1590,"v":1.36},{"s":"h6","g":"Hubbard","w":1668,"v":1.3},
  {"s":"h7","g":"Hubbard","w":915,"v":0.91},{"s":"h7","g":"Hubbard","w":948,"v":0.865},{"s":"h7","g":"Hubbard","w":985,"v":0.875},{"s":"h7","g":"Hubbard","w":1030,"v":0.86},{"s":"h7","g":"Hubbard","w":1080,"v":0.845},{"s":"h7","g":"Hubbard","w":1125,"v":0.85},{"s":"h7","g":"Hubbard","w":1150,"v":0.905},{"s":"h7","g":"Hubbard","w":1183,"v":0.965},{"s":"h7","g":"Hubbard","w":1225,"v":0.95},{"s":"h7","g":"Hubbard","w":1265,"v":0.935},{"s":"h7","g":"Hubbard","w":1310,"v":0.98},{"s":"h7","g":"Hubbard","w":1350,"v":1.088},{"s":"h7","g":"Hubbard","w":1390,"v":1.247},{"s":"h7","g":"Hubbard","w":1420,"v":1.375},{"s":"h7","g":"Hubbard","w":1460,"v":1.43},{"s":"h7","g":"Hubbard","w":1520,"v":1.415},{"s":"h7","g":"Hubbard","w":1590,"v":1.375},{"s":"h7","g":"Hubbard","w":1668,"v":1.315},
  {"s":"h8","g":"Hubbard","w":915,"v":0.9},{"s":"h8","g":"Hubbard","w":948,"v":0.855},{"s":"h8","g":"Hubbard","w":985,"v":0.865},{"s":"h8","g":"Hubbard","w":1030,"v":0.85},{"s":"h8","g":"Hubbard","w":1080,"v":0.835},{"s":"h8","g":"Hubbard","w":1125,"v":0.84},{"s":"h8","g":"Hubbard","w":1150,"v":0.895},{"s":"h8","g":"Hubbard","w":1183,"v":0.955},{"s":"h8","g":"Hubbard","w":1225,"v":0.94},{"s":"h8","g":"Hubbard","w":1265,"v":0.925},{"s":"h8","g":"Hubbard","w":1310,"v":0.97},{"s":"h8","g":"Hubbard","w":1350,"v":1.073},{"s":"h8","g":"Hubbard","w":1390,"v":1.227},{"s":"h8","g":"Hubbard","w":1420,"v":1.35},{"s":"h8","g":"Hubbard","w":1460,"v":1.405},{"s":"h8","g":"Hubbard","w":1520,"v":1.39},{"s":"h8","g":"Hubbard","w":1590,"v":1.35},{"s":"h8","g":"Hubbard","w":1668,"v":1.29},
  {"s":"h9","g":"Hubbard","w":915,"v":0.885},{"s":"h9","g":"Hubbard","w":948,"v":0.84},{"s":"h9","g":"Hubbard","w":985,"v":0.85},{"s":"h9","g":"Hubbard","w":1030,"v":0.835},{"s":"h9","g":"Hubbard","w":1080,"v":0.82},{"s":"h9","g":"Hubbard","w":1125,"v":0.825},{"s":"h9","g":"Hubbard","w":1150,"v":0.88},{"s":"h9","g":"Hubbard","w":1183,"v":0.94},{"s":"h9","g":"Hubbard","w":1225,"v":0.925},{"s":"h9","g":"Hubbard","w":1265,"v":0.91},{"s":"h9","g":"Hubbard","w":1310,"v":0.955},{"s":"h9","g":"Hubbard","w":1350,"v":1.06},{"s":"h9","g":"Hubbard","w":1390,"v":1.215},{"s":"h9","g":"Hubbard","w":1420,"v":1.34},{"s":"h9","g":"Hubbard","w":1460,"v":1.395},{"s":"h9","g":"Hubbard","w":1520,"v":1.38},{"s":"h9","g":"Hubbard","w":1590,"v":1.34},{"s":"h9","g":"Hubbard","w":1668,"v":1.28},
  {"s":"h10","g":"Hubbard","w":915,"v":0.87},{"s":"h10","g":"Hubbard","w":948,"v":0.825},{"s":"h10","g":"Hubbard","w":985,"v":0.835},{"s":"h10","g":"Hubbard","w":1030,"v":0.82},{"s":"h10","g":"Hubbard","w":1080,"v":0.805},{"s":"h10","g":"Hubbard","w":1125,"v":0.81},{"s":"h10","g":"Hubbard","w":1150,"v":0.865},{"s":"h10","g":"Hubbard","w":1183,"v":0.925},{"s":"h10","g":"Hubbard","w":1225,"v":0.91},{"s":"h10","g":"Hubbard","w":1265,"v":0.895},{"s":"h10","g":"Hubbard","w":1310,"v":0.94},{"s":"h10","g":"Hubbard","w":1350,"v":1.047},{"s":"h10","g":"Hubbard","w":1390,"v":1.203},{"s":"h10","g":"Hubbard","w":1420,"v":1.33},{"s":"h10","g":"Hubbard","w":1460,"v":1.385},{"s":"h10","g":"Hubbard","w":1520,"v":1.37},{"s":"h10","g":"Hubbard","w":1590,"v":1.33},{"s":"h10","g":"Hubbard","w":1668,"v":1.27},
  {"s":"h11","g":"Hubbard","w":915,"v":0.87},{"s":"h11","g":"Hubbard","w":948,"v":0.81},{"s":"h11","g":"Hubbard","w":985,"v":0.82},{"s":"h11","g":"Hubbard","w":1030,"v":0.8},{"s":"h11","g":"Hubbard","w":1080,"v":0.78},{"s":"h11","g":"Hubbard","w":1125,"v":0.785},{"s":"h11","g":"Hubbard","w":1150,"v":0.85},{"s":"h11","g":"Hubbard","w":1183,"v":0.9},{"s":"h11","g":"Hubbard","w":1225,"v":0.885},{"s":"h11","g":"Hubbard","w":1265,"v":0.866},{"s":"h11","g":"Hubbard","w":1310,"v":0.91},{"s":"h11","g":"Hubbard","w":1350,"v":1},{"s":"h11","g":"Hubbard","w":1390,"v":1.14},{"s":"h11","g":"Hubbard","w":1420,"v":1.24},{"s":"h11","g":"Hubbard","w":1460,"v":1.28},{"s":"h11","g":"Hubbard","w":1520,"v":1.28},{"s":"h11","g":"Hubbard","w":1590,"v":1.265},{"s":"h11","g":"Hubbard","w":1668,"v":1.25},
  {"s":"h12","g":"Hubbard","w":915,"v":0.86},{"s":"h12","g":"Hubbard","w":948,"v":0.75},{"s":"h12","g":"Hubbard","w":985,"v":0.765},{"s":"h12","g":"Hubbard","w":1030,"v":0.745},{"s":"h12","g":"Hubbard","w":1080,"v":0.73},{"s":"h12","g":"Hubbard","w":1125,"v":0.74},{"s":"h12","g":"Hubbard","w":1150,"v":0.8},{"s":"h12","g":"Hubbard","w":1183,"v":0.87},{"s":"h12","g":"Hubbard","w":1225,"v":0.86},{"s":"h12","g":"Hubbard","w":1265,"v":0.84},{"s":"h12","g":"Hubbard","w":1310,"v":0.88},{"s":"h12","g":"Hubbard","w":1350,"v":0.98},{"s":"h12","g":"Hubbard","w":1390,"v":1.12},{"s":"h12","g":"Hubbard","w":1420,"v":1.22},{"s":"h12","g":"Hubbard","w":1460,"v":1.265},{"s":"h12","g":"Hubbard","w":1520,"v":1.27},{"s":"h12","g":"Hubbard","w":1590,"v":1.255},{"s":"h12","g":"Hubbard","w":1668,"v":1.24},
  {"s":"r1","g":"Ross","w":915,"v":1.11},{"s":"r1","g":"Ross","w":948,"v":1.075},{"s":"r1","g":"Ross","w":985,"v":1.09},{"s":"r1","g":"Ross","w":1030,"v":1.075},{"s":"r1","g":"Ross","w":1080,"v":1.055},{"s":"r1","g":"Ross","w":1125,"v":1.06},{"s":"r1","g":"Ross","w":1150,"v":1.16},{"s":"r1","g":"Ross","w":1183,"v":1.215},{"s":"r1","g":"Ross","w":1225,"v":1.2},{"s":"r1","g":"Ross","w":1265,"v":1.185},{"s":"r1","g":"Ross","w":1310,"v":1.24},{"s":"r1","g":"Ross","w":1350,"v":1.32},{"s":"r1","g":"Ross","w":1390,"v":1.42},{"s":"r1","g":"Ross","w":1420,"v":1.48},{"s":"r1","g":"Ross","w":1460,"v":1.5},{"s":"r1","g":"Ross","w":1520,"v":1.485},{"s":"r1","g":"Ross","w":1590,"v":1.45},{"s":"r1","g":"Ross","w":1668,"v":1.41},
  {"s":"r2","g":"Ross","w":915,"v":1.09},{"s":"r2","g":"Ross","w":948,"v":1.055},{"s":"r2","g":"Ross","w":985,"v":1.07},{"s":"r2","g":"Ross","w":1030,"v":1.055},{"s":"r2","g":"Ross","w":1080,"v":1.035},{"s":"r2","g":"Ross","w":1125,"v":1.04},{"s":"r2","g":"Ross","w":1150,"v":1.14},{"s":"r2","g":"Ross","w":1183,"v":1.195},{"s":"r2","g":"Ross","w":1225,"v":1.18},{"s":"r2","g":"Ross","w":1265,"v":1.165},{"s":"r2","g":"Ross","w":1310,"v":1.22},{"s":"r2","g":"Ross","w":1350,"v":1.308},{"s":"r2","g":"Ross","w":1390,"v":1.417},{"s":"r2","g":"Ross","w":1420,"v":1.485},{"s":"r2","g":"Ross","w":1460,"v":1.505},{"s":"r2","g":"Ross","w":1520,"v":1.49},{"s":"r2","g":"Ross","w":1590,"v":1.455},{"s":"r2","g":"Ross","w":1668,"v":1.415},
  {"s":"r3","g":"Ross","w":915,"v":1.075},{"s":"r3","g":"Ross","w":948,"v":1.04},{"s":"r3","g":"Ross","w":985,"v":1.055},{"s":"r3","g":"Ross","w":1030,"v":1.04},{"s":"r3","g":"Ross","w":1080,"v":1.02},{"s":"r3","g":"Ross","w":1125,"v":1.025},{"s":"r3","g":"Ross","w":1150,"v":1.125},{"s":"r3","g":"Ross","w":1183,"v":1.18},{"s":"r3","g":"Ross","w":1225,"v":1.165},{"s":"r3","g":"Ross","w":1265,"v":1.15},{"s":"r3","g":"Ross","w":1310,"v":1.205},{"s":"r3","g":"Ross","w":1350,"v":1.293},{"s":"r3","g":"Ross","w":1390,"v":1.402},{"s":"r3","g":"Ross","w":1420,"v":1.47},{"s":"r3","g":"Ross","w":1460,"v":1.49},{"s":"r3","g":"Ross","w":1520,"v":1.475},{"s":"r3","g":"Ross","w":1590,"v":1.44},{"s":"r3","g":"Ross","w":1668,"v":1.4},
  {"s":"r4","g":"Ross","w":915,"v":1.06},{"s":"r4","g":"Ross","w":948,"v":1.025},{"s":"r4","g":"Ross","w":985,"v":1.04},{"s":"r4","g":"Ross","w":1030,"v":1.025},{"s":"r4","g":"Ross","w":1080,"v":1.005},{"s":"r4","g":"Ross","w":1125,"v":1.01},{"s":"r4","g":"Ross","w":1150,"v":1.11},{"s":"r4","g":"Ross","w":1183,"v":1.165},{"s":"r4","g":"Ross","w":1225,"v":1.15},{"s":"r4","g":"Ross","w":1265,"v":1.135},{"s":"r4","g":"Ross","w":1310,"v":1.19},{"s":"r4","g":"Ross","w":1350,"v":1.28},{"s":"r4","g":"Ross","w":1390,"v":1.39},{"s":"r4","g":"Ross","w":1420,"v":1.46},{"s":"r4","g":"Ross","w":1460,"v":1.48},{"s":"r4","g":"Ross","w":1520,"v":1.465},{"s":"r4","g":"Ross","w":1590,"v":1.43},{"s":"r4","g":"Ross","w":1668,"v":1.39},
  {"s":"r5","g":"Ross","w":915,"v":1.05},{"s":"r5","g":"Ross","w":948,"v":1.015},{"s":"r5","g":"Ross","w":985,"v":1.03},{"s":"r5","g":"Ross","w":1030,"v":1.015},{"s":"r5","g":"Ross","w":1080,"v":0.995},{"s":"r5","g":"Ross","w":1125,"v":1},{"s":"r5","g":"Ross","w":1150,"v":1.1},{"s":"r5","g":"Ross","w":1183,"v":1.155},{"s":"r5","g":"Ross","w":1225,"v":1.14},{"s":"r5","g":"Ross","w":1265,"v":1.125},{"s":"r5","g":"Ross","w":1310,"v":1.18},{"s":"r5","g":"Ross","w":1350,"v":1.278},{"s":"r5","g":"Ross","w":1390,"v":1.397},{"s":"r5","g":"Ross","w":1420,"v":1.475},{"s":"r5","g":"Ross","w":1460,"v":1.495},{"s":"r5","g":"Ross","w":1520,"v":1.48},{"s":"r5","g":"Ross","w":1590,"v":1.445},{"s":"r5","g":"Ross","w":1668,"v":1.405},
  {"s":"r6","g":"Ross","w":915,"v":1.035},{"s":"r6","g":"Ross","w":948,"v":1},{"s":"r6","g":"Ross","w":985,"v":1.015},{"s":"r6","g":"Ross","w":1030,"v":1},{"s":"r6","g":"Ross","w":1080,"v":0.98},{"s":"r6","g":"Ross","w":1125,"v":0.985},{"s":"r6","g":"Ross","w":1150,"v":1.085},{"s":"r6","g":"Ross","w":1183,"v":1.14},{"s":"r6","g":"Ross","w":1225,"v":1.125},{"s":"r6","g":"Ross","w":1265,"v":1.11},{"s":"r6","g":"Ross","w":1310,"v":1.165},{"s":"r6","g":"Ross","w":1350,"v":1.26},{"s":"r6","g":"Ross","w":1390,"v":1.375},{"s":"r6","g":"Ross","w":1420,"v":1.45},{"s":"r6","g":"Ross","w":1460,"v":1.47},{"s":"r6","g":"Ross","w":1520,"v":1.455},{"s":"r6","g":"Ross","w":1590,"v":1.42},{"s":"r6","g":"Ross","w":1668,"v":1.38},
  {"s":"r7","g":"Ross","w":915,"v":1.025},{"s":"r7","g":"Ross","w":948,"v":0.99},{"s":"r7","g":"Ross","w":985,"v":1.005},{"s":"r7","g":"Ross","w":1030,"v":0.99},{"s":"r7","g":"Ross","w":1080,"v":0.97},{"s":"r7","g":"Ross","w":1125,"v":0.975},{"s":"r7","g":"Ross","w":1150,"v":1.075},{"s":"r7","g":"Ross","w":1183,"v":1.13},{"s":"r7","g":"Ross","w":1225,"v":1.115},{"s":"r7","g":"Ross","w":1265,"v":1.1},{"s":"r7","g":"Ross","w":1310,"v":1.155},{"s":"r7","g":"Ross","w":1350,"v":1.258},{"s":"r7","g":"Ross","w":1390,"v":1.382},{"s":"r7","g":"Ross","w":1420,"v":1.465},{"s":"r7","g":"Ross","w":1460,"v":1.485},{"s":"r7","g":"Ross","w":1520,"v":1.47},{"s":"r7","g":"Ross","w":1590,"v":1.435},{"s":"r7","g":"Ross","w":1668,"v":1.395},
  {"s":"r8","g":"Ross","w":915,"v":1.01},{"s":"r8","g":"Ross","w":948,"v":0.975},{"s":"r8","g":"Ross","w":985,"v":0.99},{"s":"r8","g":"Ross","w":1030,"v":0.975},{"s":"r8","g":"Ross","w":1080,"v":0.955},{"s":"r8","g":"Ross","w":1125,"v":0.96},{"s":"r8","g":"Ross","w":1150,"v":1.06},{"s":"r8","g":"Ross","w":1183,"v":1.115},{"s":"r8","g":"Ross","w":1225,"v":1.1},{"s":"r8","g":"Ross","w":1265,"v":1.085},{"s":"r8","g":"Ross","w":1310,"v":1.14},{"s":"r8","g":"Ross","w":1350,"v":1.24},{"s":"r8","g":"Ross","w":1390,"v":1.36},{"s":"r8","g":"Ross","w":1420,"v":1.44},{"s":"r8","g":"Ross","w":1460,"v":1.46},{"s":"r8","g":"Ross","w":1520,"v":1.445},{"s":"r8","g":"Ross","w":1590,"v":1.41},{"s":"r8","g":"Ross","w":1668,"v":1.37},
  {"s":"r9","g":"Ross","w":915,"v":0.995},{"s":"r9","g":"Ross","w":948,"v":0.96},{"s":"r9","g":"Ross","w":985,"v":0.975},{"s":"r9","g":"Ross","w":1030,"v":0.96},{"s":"r9","g":"Ross","w":1080,"v":0.94},{"s":"r9","g":"Ross","w":1125,"v":0.945},{"s":"r9","g":"Ross","w":1150,"v":1.045},{"s":"r9","g":"Ross","w":1183,"v":1.1},{"s":"r9","g":"Ross","w":1225,"v":1.085},{"s":"r9","g":"Ross","w":1265,"v":1.07},{"s":"r9","g":"Ross","w":1310,"v":1.125},{"s":"r9","g":"Ross","w":1350,"v":1.225},{"s":"r9","g":"Ross","w":1390,"v":1.345},{"s":"r9","g":"Ross","w":1420,"v":1.425},{"s":"r9","g":"Ross","w":1460,"v":1.445},{"s":"r9","g":"Ross","w":1520,"v":1.43},{"s":"r9","g":"Ross","w":1590,"v":1.395},{"s":"r9","g":"Ross","w":1668,"v":1.355},
  {"s":"r10","g":"Ross","w":915,"v":0.98},{"s":"r10","g":"Ross","w":948,"v":0.945},{"s":"r10","g":"Ross","w":985,"v":0.96},{"s":"r10","g":"Ross","w":1030,"v":0.945},{"s":"r10","g":"Ross","w":1080,"v":0.925},{"s":"r10","g":"Ross","w":1125,"v":0.93},{"s":"r10","g":"Ross","w":1150,"v":1.03},{"s":"r10","g":"Ross","w":1183,"v":1.085},{"s":"r10","g":"Ross","w":1225,"v":1.07},{"s":"r10","g":"Ross","w":1265,"v":1.055},{"s":"r10","g":"Ross","w":1310,"v":1.11},{"s":"r10","g":"Ross","w":1350,"v":1.222},{"s":"r10","g":"Ross","w":1390,"v":1.353},{"s":"r10","g":"Ross","w":1420,"v":1.445},{"s":"r10","g":"Ross","w":1460,"v":1.465},{"s":"r10","g":"Ross","w":1520,"v":1.45},{"s":"r10","g":"Ross","w":1590,"v":1.415},{"s":"r10","g":"Ross","w":1668,"v":1.375},
  {"s":"r11","g":"Ross","w":915,"v":0.965},{"s":"r11","g":"Ross","w":948,"v":0.93},{"s":"r11","g":"Ross","w":985,"v":0.945},{"s":"r11","g":"Ross","w":1030,"v":0.93},{"s":"r11","g":"Ross","w":1080,"v":0.91},{"s":"r11","g":"Ross","w":1125,"v":0.915},{"s":"r11","g":"Ross","w":1150,"v":1.015},{"s":"r11","g":"Ross","w":1183,"v":1.07},{"s":"r11","g":"Ross","w":1225,"v":1.055},{"s":"r11","g":"Ross","w":1265,"v":1.04},{"s":"r11","g":"Ross","w":1310,"v":1.095},{"s":"r11","g":"Ross","w":1350,"v":1.203},{"s":"r11","g":"Ross","w":1390,"v":1.332},{"s":"r11","g":"Ross","w":1420,"v":1.42},{"s":"r11","g":"Ross","w":1460,"v":1.44},{"s":"r11","g":"Ross","w":1520,"v":1.425},{"s":"r11","g":"Ross","w":1590,"v":1.39},{"s":"r11","g":"Ross","w":1668,"v":1.35},
  {"s":"r12","g":"Ross","w":915,"v":1.04},{"s":"r12","g":"Ross","w":948,"v":1.005},{"s":"r12","g":"Ross","w":985,"v":1.02},{"s":"r12","g":"Ross","w":1030,"v":1.005},{"s":"r12","g":"Ross","w":1080,"v":0.985},{"s":"r12","g":"Ross","w":1125,"v":0.99},{"s":"r12","g":"Ross","w":1150,"v":1.09},{"s":"r12","g":"Ross","w":1183,"v":1.145},{"s":"r12","g":"Ross","w":1225,"v":1.13},{"s":"r12","g":"Ross","w":1265,"v":1.115},{"s":"r12","g":"Ross","w":1310,"v":1.17},{"s":"r12","g":"Ross","w":1350,"v":1.25},{"s":"r12","g":"Ross","w":1390,"v":1.33},{"s":"r12","g":"Ross","w":1420,"v":1.37},{"s":"r12","g":"Ross","w":1460,"v":1.38},{"s":"r12","g":"Ross","w":1520,"v":1.37},{"s":"r12","g":"Ross","w":1590,"v":1.33},{"s":"r12","g":"Ross","w":1668,"v":1.28},
  {"s":"r13","g":"Ross","w":915,"v":1},{"s":"r13","g":"Ross","w":948,"v":0.965},{"s":"r13","g":"Ross","w":985,"v":0.98},{"s":"r13","g":"Ross","w":1030,"v":0.965},{"s":"r13","g":"Ross","w":1080,"v":0.945},{"s":"r13","g":"Ross","w":1125,"v":0.95},{"s":"r13","g":"Ross","w":1150,"v":1.05},{"s":"r13","g":"Ross","w":1183,"v":1.105},{"s":"r13","g":"Ross","w":1225,"v":1.09},{"s":"r13","g":"Ross","w":1265,"v":1.075},{"s":"r13","g":"Ross","w":1310,"v":1.13},{"s":"r13","g":"Ross","w":1350,"v":1.22},{"s":"r13","g":"Ross","w":1390,"v":1.3},{"s":"r13","g":"Ross","w":1420,"v":1.33},{"s":"r13","g":"Ross","w":1460,"v":1.34},{"s":"r13","g":"Ross","w":1520,"v":1.335},{"s":"r13","g":"Ross","w":1590,"v":1.3},{"s":"r13","g":"Ross","w":1668,"v":1.25},
  {"s":"r14","g":"Ross","w":915,"v":0.96},{"s":"r14","g":"Ross","w":948,"v":0.925},{"s":"r14","g":"Ross","w":985,"v":0.94},{"s":"r14","g":"Ross","w":1030,"v":0.925},{"s":"r14","g":"Ross","w":1080,"v":0.905},{"s":"r14","g":"Ross","w":1125,"v":0.91},{"s":"r14","g":"Ross","w":1150,"v":1.01},{"s":"r14","g":"Ross","w":1183,"v":1.065},{"s":"r14","g":"Ross","w":1225,"v":1.05},{"s":"r14","g":"Ross","w":1265,"v":1.035},{"s":"r14","g":"Ross","w":1310,"v":1.09},{"s":"r14","g":"Ross","w":1350,"v":1.19},{"s":"r14","g":"Ross","w":1390,"v":1.27},{"s":"r14","g":"Ross","w":1420,"v":1.3},{"s":"r14","g":"Ross","w":1460,"v":1.31},{"s":"r14","g":"Ross","w":1520,"v":1.305},{"s":"r14","g":"Ross","w":1590,"v":1.28},{"s":"r14","g":"Ross","w":1668,"v":1.24},
  {"s":"r15","g":"Ross","w":915,"v":0.94},{"s":"r15","g":"Ross","w":948,"v":0.905},{"s":"r15","g":"Ross","w":985,"v":0.92},{"s":"r15","g":"Ross","w":1030,"v":0.905},{"s":"r15","g":"Ross","w":1080,"v":0.885},{"s":"r15","g":"Ross","w":1125,"v":0.89},{"s":"r15","g":"Ross","w":1150,"v":0.99},{"s":"r15","g":"Ross","w":1183,"v":1.045},{"s":"r15","g":"Ross","w":1225,"v":1.03},{"s":"r15","g":"Ross","w":1265,"v":1.015},{"s":"r15","g":"Ross","w":1310,"v":1.07},{"s":"r15","g":"Ross","w":1350,"v":1.16},{"s":"r15","g":"Ross","w":1390,"v":1.23},{"s":"r15","g":"Ross","w":1420,"v":1.25},{"s":"r15","g":"Ross","w":1460,"v":1.255},{"s":"r15","g":"Ross","w":1520,"v":1.255},{"s":"r15","g":"Ross","w":1590,"v":1.245},{"s":"r15","g":"Ross","w":1668,"v":1.23},
  {"s":"r16","g":"Ross","w":915,"v":1.02},{"s":"r16","g":"Ross","w":948,"v":0.985},{"s":"r16","g":"Ross","w":985,"v":1},{"s":"r16","g":"Ross","w":1030,"v":0.985},{"s":"r16","g":"Ross","w":1080,"v":0.965},{"s":"r16","g":"Ross","w":1125,"v":0.97},{"s":"r16","g":"Ross","w":1150,"v":1.07},{"s":"r16","g":"Ross","w":1183,"v":1.125},{"s":"r16","g":"Ross","w":1225,"v":1.11},{"s":"r16","g":"Ross","w":1265,"v":1.095},{"s":"r16","g":"Ross","w":1310,"v":1.15},{"s":"r16","g":"Ross","w":1350,"v":1.24},{"s":"r16","g":"Ross","w":1390,"v":1.32},{"s":"r16","g":"Ross","w":1420,"v":1.36},{"s":"r16","g":"Ross","w":1460,"v":1.375},{"s":"r16","g":"Ross","w":1520,"v":1.36},{"s":"r16","g":"Ross","w":1590,"v":1.32},{"s":"r16","g":"Ross","w":1668,"v":1.27}
 ]
}
}
